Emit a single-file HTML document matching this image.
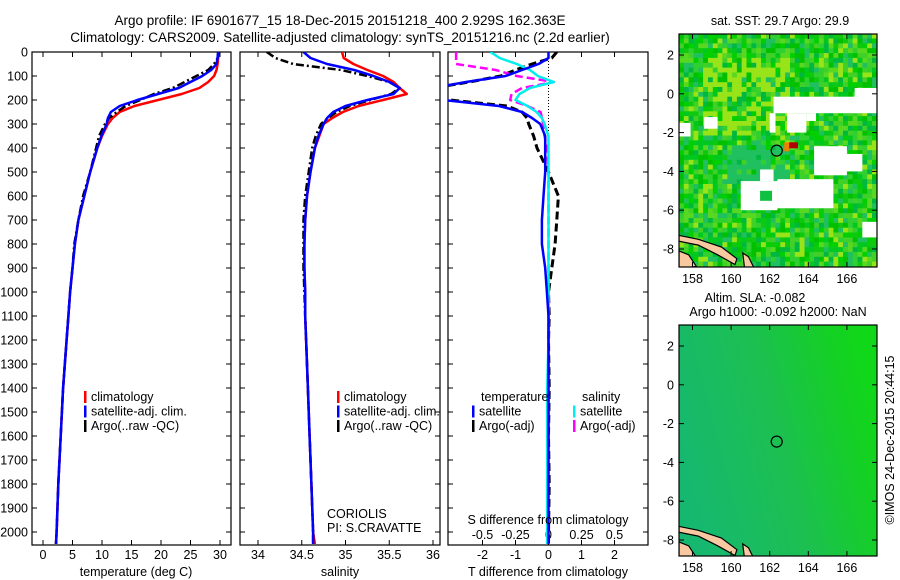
<!DOCTYPE html>
<html><head><meta charset="utf-8"><style>
html,body{margin:0;padding:0;background:#fff;}
svg{display:block;font-family:"Liberation Sans",sans-serif;}
text{fill:#000;}
</style></head><body>
<svg id="c" width="900" height="580" viewBox="0 0 900 580" xmlns="http://www.w3.org/2000/svg">
<defs>
<clipPath id="cp1"><rect x="32" y="52" width="199" height="493"/></clipPath>
<clipPath id="cp2"><rect x="240" y="52" width="200" height="493"/></clipPath>
<clipPath id="cp3"><rect x="448" y="52" width="200" height="493"/></clipPath>
<clipPath id="cm1"><rect x="679" y="34" width="198" height="233"/></clipPath>
<clipPath id="cm2"><rect x="679" y="325" width="198" height="231"/></clipPath>
<linearGradient id="g2" x1="0" y1="0.6" x2="1" y2="0.3">
<stop offset="0" stop-color="#16b870"/><stop offset="0.5" stop-color="#1cc050"/><stop offset="0.85" stop-color="#14d024"/><stop offset="1" stop-color="#10d818"/>
</linearGradient>
</defs>
<text x="340" y="25" text-anchor="middle" font-size="13.5">Argo profile: IF 6901677_15 18-Dec-2015 20151218_400 2.929S 162.363E</text>
<text x="340" y="42" text-anchor="middle" font-size="13.5">Climatology: CARS2009. Satellite-adjusted climatology: synTS_20151216.nc (2.2d earlier)</text>
<g id="plots"></g>
<g id="maps"></g>
<text transform="translate(894,440) rotate(-90)" text-anchor="middle" font-size="12.5">©IMOS 24-Dec-2015 20:44:15</text>
</svg>
<script>
// depth grid (m) shared by series
const depths = [0,25,50,75,100,125,150,175,200,225,250,275,300,350,400,500,600,700,800,900,1000,1100,1200,1400,1600,1800,2000,2050];
// temperature profiles (deg C)
const tempClim = [29.7,29.7,29.6,29.4,29.0,28.0,26.5,23.5,19.5,15.5,13.0,11.8,11.0,10.0,9.2,8.0,7.0,6.0,5.4,5.0,4.6,4.3,4.0,3.4,3.0,2.6,2.3,2.2];
const tempSat  = [29.7,29.6,29.4,28.5,27.0,25.0,23.0,19.5,16.0,13.0,11.5,11.0,10.8,9.9,9.2,8.0,7.0,6.0,5.4,5.0,4.6,4.3,4.0,3.4,3.0,2.6,2.3,2.2];
const tempArgo = [29.7,29.6,29.0,28.0,26.0,24.0,22.0,18.8,16.5,14.0,12.5,11.2,10.5,9.5,9.0,8.0,6.8,6.0,5.3,5.0,4.6,4.3,4.0,3.4,3.0,2.6,2.3,2.2];
// salinity profiles (PSU)
const salClim = [34.96,34.98,35.09,35.25,35.43,35.55,35.62,35.70,35.43,35.15,34.97,34.85,34.75,34.70,34.65,34.60,34.56,34.54,34.53,34.53,34.54,34.54,34.55,34.57,34.59,34.61,34.63,34.65];
const salSat  = [34.52,34.60,34.79,35.10,35.32,35.50,35.62,35.55,35.25,35.00,34.86,34.79,34.75,34.69,34.65,34.60,34.56,34.54,34.53,34.53,34.54,34.54,34.55,34.57,34.59,34.61,34.63,34.63];
const salArgo = [34.10,34.20,34.40,34.95,35.25,35.50,35.62,35.52,35.28,35.05,34.90,34.80,34.72,34.66,34.62,34.58,34.54,34.52,34.52,34.52,34.53,34.54,34.55,34.57,34.59,34.61,34.63,34.63];
// differences from climatology
const dTSat  = [0.0,0.0,-0.3,-0.8,-1.3,-2.5,-3.5,-3.5,-3.2,-1.5,-0.8,-0.5,-0.25,-0.1,-0.1,-0.1,-0.15,-0.2,-0.2,-0.1,-0.05,0,0,0,0,0,0,0];
const dTArgo = [0.25,0.1,-0.5,-1.0,-1.45,-2.4,-3.5,-3.5,-3.0,-1.25,-0.8,-0.65,-0.6,-0.45,-0.35,0.0,0.3,0.25,0.2,0.1,0.0,0.02,0,0.02,0,0.02,0,0];
const dSSat  = [-0.44,-0.37,-0.24,-0.14,-0.08,0.04,-0.14,-0.22,-0.25,-0.16,-0.09,-0.05,-0.03,0,0,0,0,0,0,0,0,0,0,-0.01,-0.01,-0.01,-0.01,-0.01];
const dSArgo = [-0.7,-0.7,-0.7,-0.4,-0.24,0.04,-0.2,-0.28,-0.29,-0.16,-0.06,-0.05,-0.04,-0.03,-0.01,0,0,0,0,0,0,0,0,0,0,-0.01,-0.01,-0.01];
const depthTicks = [0,100,200,300,400,500,600,700,800,900,1000,1100,1200,1300,1400,1500,1600,1700,1800,1900,2000];
const tempTicks = [0,5,10,15,20,25,30];
const salTicks = [34,34.5,35,35.5,36];
const dTTicks = [-2,-1,0,1,2];
const dSTicks = [-0.5,-0.25,0,0.25,0.5];
const dSTickLabels = ["-0.5","-0.25","0","0.25","0.5"];
const latTicks = [2,0,-2,-4,-6,-8];
const lonTicks = [158,160,162,164,166];

const NS="http://www.w3.org/2000/svg";
const plots=document.getElementById('plots');
const maps=document.getElementById('maps');
function mk(tag,attrs,parent){const e=document.createElementNS(NS,tag);for(const k in attrs)e.setAttribute(k,attrs[k]);(parent||plots).appendChild(e);return e;}
function txt(x,y,s,size,anchor,parent){const t=mk('text',{x:x,y:y,'font-size':size,'text-anchor':anchor||'middle'},parent);t.textContent=s;return t;}
const yD=d=>52+d*0.24;
const xT=t=>43+5.9*t;
const xS=s=>258+87.5*(s-34);
const xDT=v=>548.5+33*v;
const xDS=v=>548.5+132*v;

function frame(x0,x1,name){
  const r=mk('rect',{x:x0,y:52,width:x1-x0,height:493,fill:'none',stroke:'#000','stroke-width':1.2});
  
  
  depthTicks.forEach(d=>{mk('line',{x1:x0,x2:x0+5,y1:yD(d),y2:yD(d),stroke:'#000'});mk('line',{x1:x1-5,x2:x1,y1:yD(d),y2:yD(d),stroke:'#000'});});
}
function xticks(vals,fx,labels,y,name){
  vals.forEach((v,i)=>{const x=fx(v);mk('line',{x1:x,x2:x,y1:52,y2:57,stroke:'#000'});mk('line',{x1:x,x2:x,y1:540,y2:545,stroke:'#000'});
    const t=txt(x,y,labels?labels[i]:String(v),12.5);
    
    });
}
function line(vals,fx,color,w,dash,clip,name){
  const p=vals.map((v,i)=>(i?'L':'M')+fx(v).toFixed(1)+','+yD(depths[i]).toFixed(1)).join(' ');
  const e=mk('path',{d:p,fill:'none',stroke:color,'stroke-width':w,'stroke-dasharray':dash||'none','clip-path':'url(#'+clip+')','stroke-linejoin':'round'});
  
  
}
frame(32,231,'temperature-panel');frame(240,440,'salinity-panel');frame(448,648,'difference-panel');
depthTicks.forEach(d=>{const t=txt(28,yD(d)+4.5,String(d),12.5,'end');
  
  });
xticks(tempTicks,xT,null,559,'temperature-tick-label');
xticks(salTicks,xS,null,559,'salinity-tick-label');
xticks(dTTicks,xDT,null,559,'t-diff-tick-label');
dSTicks.forEach((v,i)=>{const t=txt(xDS(v),539,dSTickLabels[i],12.5);
  
  });
mk('line',{x1:548.5,x2:548.5,y1:52,y2:yD(330),stroke:'#000','stroke-dasharray':'1,2'});
line(tempClim,xT,'#f00',2.5,null,'cp1','temp-climatology-line');
line(tempArgo,xT,'#000',2.5,'8,3,2,3','cp1','temp-argo-line');
line(tempSat,xT,'#00f',2.5,null,'cp1','temp-satellite-line');
line(salClim,xS,'#f00',2.5,null,'cp2','sal-climatology-line');
line(salArgo,xS,'#000',2.5,'8,3,2,3','cp2','sal-argo-line');
line(salSat,xS,'#00f',2.5,null,'cp2','sal-satellite-line');
line(dTArgo,xDT,'#000',3,'8,4','cp3','t-diff-argo-line');
line(dSArgo,xDS,'#f0f',2.5,'8,4','cp3','s-diff-argo-line');
line(dSSat,xDS,'#0ee',2.5,null,'cp3','s-diff-satellite-line');
line(dTSat,xDT,'#00f',2.5,null,'cp3','t-diff-satellite-line');
[[136,'temperature (deg C)','temperature-axis-title'],[340,'salinity','salinity-axis-title'],[548,'T difference from climatology','t-diff-axis-title']].forEach(a=>{
  const t=txt(a[0],576,a[1],12.5);});
{const t=txt(548,524,'S difference from climatology',12.5);}
function leg(x,y,color,label,name){
  const g=mk('g',{});
  mk('rect',{x:x,y:y-10,width:2.5,height:12,fill:color},g);
  txt(x+7,y,label,12.5,'start',g);
}
[[84,'climatology','#f00'],[84,'satellite-adj. clim.','#00f'],[84,'Argo(..raw -QC)','#000']].forEach((a,i)=>leg(a[0],401+i*14.5,a[2],a[1],'temp-legend-entry'));
[[337,'climatology','#f00'],[337,'satellite-adj. clim.','#00f'],[337,'Argo(..raw -QC)','#000']].forEach((a,i)=>leg(a[0],401+i*14.5,a[2],a[1],'sal-legend-entry'));
{const t=txt(481,401,'temperature',12.5,'start');
 const u=txt(582,401,'salinity',12.5,'start');}
leg(472,415.5,'#00f','satellite','diff-legend-entry');leg(472,430,'#000','Argo(-adj)','diff-legend-entry');
leg(573,415.5,'#0ee','satellite','diff-legend-entry');leg(573,430,'#f0f','Argo(-adj)','diff-legend-entry');
{const t=txt(327,518,'CORIOLIS',12.5,'start');
 const u=txt(327,532,'PI: S.CRAVATTE',12.5,'start');}

// ---- maps ----
const mx=lon=>679+(lon-157.3)*19.3;
const my1=lat=>55+(2-lat)*19.4;
const my2=lat=>346+(2-lat)*19.4;
function h(i,j){let n=(i*73856093)^(j*19349663);n=(n^(n>>13))*1274126177;n=n^(n>>16);return ((n>>>0)%1000)/1000;}
const pal=['#00c000','#10c810','#30d030','#00b840','#58d820','#00c820','#98e418','#20c060','#00d000','#40d028'];
const g1=mk('g',{'clip-path':'url(#cm1)'},maps);


for(let i=0;i<42;i++)for(let j=0;j<50;j++){
  const lon=157.3+i*0.25, lat=3.1-j*0.25;
  let k=Math.floor(h(i,j)*pal.length);
  if(lat>-2&&lat<2&&lon>158.5&&lon<163&&h(j,i)>0.55)k=6;
  if(lat<-2.5&&lat>-4.5&&lon>159.5&&lon<163&&h(j,i)>0.3)k=7;
  mk('rect',{x:mx(lon).toFixed(1),y:my1(lat).toFixed(1),width:5.2,height:5.2,fill:pal[k]},g1);
}
const whites=[[162.2,167.6,-0.15,-1.0],[162.0,162.3,-1.0,-2.0],[162.9,163.9,-1.0,-2.0],[163.9,164.4,-1.0,-1.4],[166.4,167.6,0.3,-0.5],[164.3,166.0,-2.7,-4.2],[165.0,166.8,-3.1,-4.0],[160.5,162.4,-4.5,-6.0],[162.4,165.3,-4.4,-5.9],[158.6,159.3,-1.2,-1.8],[157.3,157.9,-1.5,-2.2],[166.8,167.6,-6.6,-7.4],[161.5,162.2,-3.9,-4.5]];
whites.forEach(w=>mk('rect',{x:mx(w[0]),y:my1(w[2]),width:mx(w[1])-mx(w[0]),height:my1(w[3])-my1(w[2]),fill:'#fff'},g1));
mk('rect',{x:mx(161.5),y:my1(-5.0),width:12,height:10,fill:'#10c040'},g1);
mk('rect',{x:mx(163),y:my1(-2.5),width:9,height:6,fill:'#b00000'},g1);
mk('rect',{x:mx(162.75),y:my1(-2.5),width:5,height:9,fill:'#f08000'},g1);
const g2=mk('g',{'clip-path':'url(#cm2)'},maps);


mk('rect',{x:679,y:325,width:198,height:231,fill:'url(#g2)'},g2);
function coast(g,my){
  mk('path',{d:`M${mx(157.3)},${my(-7.3)} L${mx(158.3)},${my(-7.5)} L${mx(159.5)},${my(-7.9)} L${mx(160.3)},${my(-8.5)} L${mx(160.2)},${my(-8.8)} L${mx(159.3)},${my(-8.3)} L${mx(158.3)},${my(-7.8)} L${mx(157.3)},${my(-7.6)}Z`,fill:'#f8c8a0',stroke:'#000','stroke-width':1.2},g);
  mk('path',{d:`M${mx(157.3)},${my(-8.1)} L${mx(157.8)},${my(-8.3)} L${mx(158.2)},${my(-8.9)} L${mx(157.3)},${my(-9)}Z`,fill:'#f8c8a0',stroke:'#000','stroke-width':1.2},g);
  mk('path',{d:`M${mx(160.6)},${my(-8.2)} L${mx(160.9)},${my(-8.4)} L${mx(161.2)},${my(-9)} L${mx(160.7)},${my(-9)}Z`,fill:'#f8c8a0',stroke:'#000','stroke-width':1.2},g);
}
coast(g1,my1);coast(g2,my2);
function mapAxes(top,bot,my,name){
  const r=mk('rect',{x:679,y:top,width:198,height:bot-top,fill:'none',stroke:'#000','stroke-width':1.2},maps);
  
  
  latTicks.forEach(l=>{const y=my(l);mk('line',{x1:679,x2:684,y1:y,y2:y,stroke:'#000'},maps);mk('line',{x1:872,x2:877,y1:y,y2:y,stroke:'#000'},maps);
    const t=txt(674,y+4.5,String(l),12.5,'end',maps);});
  lonTicks.forEach(l=>{const x=mx(l);mk('line',{x1:x,x2:x,y1:top,y2:top+5,stroke:'#000'},maps);mk('line',{x1:x,x2:x,y1:bot-5,y2:bot,stroke:'#000'},maps);
    const t=txt(x,bot+16,String(l),12.5,'middle',maps);});
}
mapAxes(34,267,my1,'sst-map-frame');mapAxes(325,556,my2,'sla-map-frame');
[[my1],[my2]].forEach(a=>{const c=mk('circle',{cx:mx(162.363),cy:a[0](-2.929),r:5.5,fill:'none',stroke:'#000','stroke-width':1.2},maps);
  });
{const t=txt(780,25,'sat. SST: 29.7 Argo: 29.9',12.5,'middle',maps);
 const u=txt(755,302,'Altim. SLA: -0.082',12.5,'middle',maps);
 const v=txt(778,316,'Argo h1000: -0.092 h2000: NaN',12.5,'middle',maps);}
</script>
</body></html>
